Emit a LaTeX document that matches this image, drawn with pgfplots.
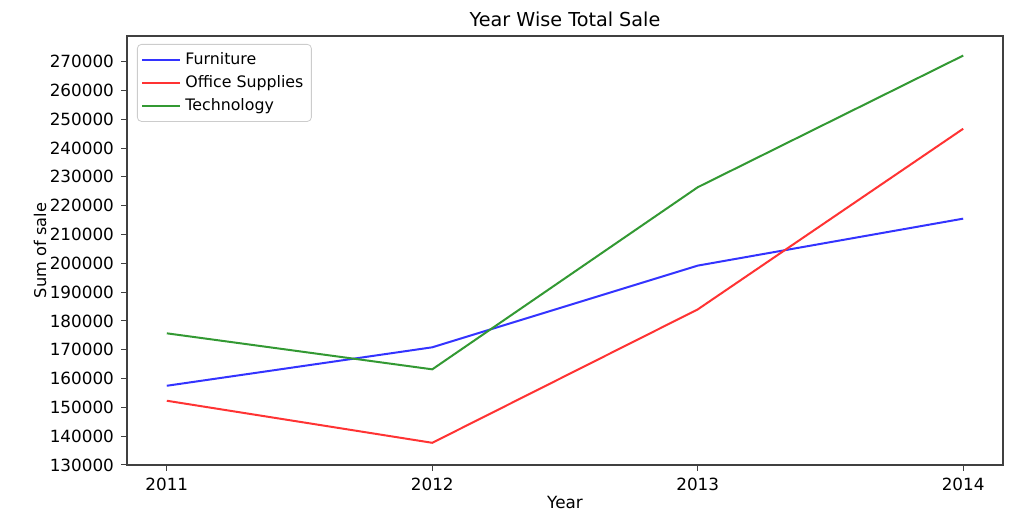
\documentclass[border=0pt]{standalone}
\usepackage{fontspec}
\setmainfont{DejaVu Sans}
\usepackage{pgfplots}
\pgfplotsset{compat=1.18}
\definecolor{cF}{HTML}{3333FF}
\definecolor{cO}{HTML}{FF3333}
\definecolor{cT}{HTML}{339933}
\begin{document}
\begin{tikzpicture}
\path[use as bounding box] (-63.5pt,-32pt) rectangle (448.5pt,232.5pt);
\begin{axis}[
  scale only axis,
  width=438pt, height=214.5pt,
  xmin=2010.85, xmax=2014.15,
  ymin=130000, ymax=278900,
  xtick={2011,2012,2013,2014},
  ytick={130000,140000,...,270000},
  scaled y ticks=false,
  /pgf/number format/assume math mode=true,
  x tick label style={/pgf/number format/1000 sep={}},
  y tick label style={/pgf/number format/fixed,/pgf/number format/1000 sep={}},
  tick pos=left,
  tick align=outside,
  major tick length=3pt,
  tick style={black!75, line width=0.5pt},
  axis line style={black!75, line width=0.6pt},
  font=\fontsize{8.4}{10}\selectfont,
  title={Year Wise Total Sale},
  title style={font=\fontsize{9.6}{11}\selectfont, at={(axis description cs:0.5,1)}, anchor=center, yshift=2.5pt},
  xlabel={Year},
  xlabel style={at={(axis description cs:0.5,0)}, anchor=center, yshift=-19pt},
  ylabel={Sum of sale},
  ylabel style={at={(axis description cs:-0.0993,0.5)}, anchor=center, font=\fontsize{8.1}{10}\selectfont},
  legend style={at={(axis description cs:0,1)}, anchor=north west, xshift=5pt, yshift=-4pt,
    draw=black!20, rounded corners=2pt, font=\fontsize{7.9}{9.5}\selectfont,
    row sep=0pt, inner sep=2pt},
  legend cell align=left,
  legend image code/.code={\draw[#1, line width=1pt] (0pt,0pt) -- (15pt,0pt); \path (0pt,0pt) -- (19pt,0pt);},
  every axis plot/.append style={line width=1pt},
]
\addplot[cF] coordinates {(2011,157500) (2012,170850) (2013,199200) (2014,215500)};
\addlegendentry{Furniture}
\addplot[cO] coordinates {(2011,152300) (2012,137700) (2013,184000) (2014,246700)};
\addlegendentry{Office Supplies}
\addplot[cT] coordinates {(2011,175700) (2012,163200) (2013,226400) (2014,272100)};
\addlegendentry{Technology}
\end{axis}
\end{tikzpicture}
\end{document}
